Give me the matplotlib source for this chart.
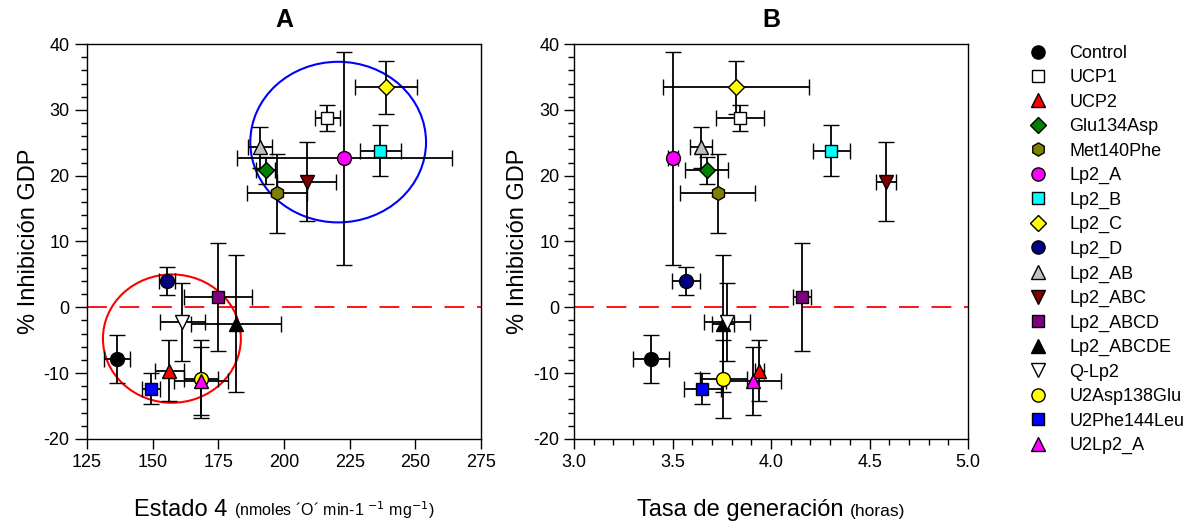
import matplotlib
matplotlib.use("Agg")
import matplotlib.pyplot as plt
from matplotlib.patches import Ellipse
from matplotlib.lines import Line2D
from matplotlib.offsetbox import TextArea, HPacker, AnchoredOffsetbox
from matplotlib.ticker import MultipleLocator, FormatStrFormatter

plt.rcParams['font.family'] = ['Liberation Sans', 'DejaVu Sans']
plt.rcParams['axes.unicode_minus'] = False

names = ["Control", "UCP1", "UCP2", "Glu134Asp", "Met140Phe", "Lp2_A", "Lp2_B",
         "Lp2_C", "Lp2_D", "Lp2_AB", "Lp2_ABC", "Lp2_ABCD", "Lp2_ABCDE", "Q-Lp2",
         "U2Asp138Glu", "U2Phe144Leu", "U2Lp2_A"]
markers = ["o", "s", "^", "D", "h", "o", "s", "D", "o", "^", "v", "s", "^", "v",
           "o", "s", "^"]
colors = ["#000000", "#FFFFFF", "#FF0000", "#008000", "#808000", "#FF00FF", "#00FFFF",
          "#FFFF00", "#000080", "#C0C0C0", "#800000", "#800080", "#000000", "#FFFFFF",
          "#FFFF00", "#0000FF", "#FF00FF"]

# % Inhibicion GDP (shared by both panels)
inhib = [-7.8, 28.75, -9.6, 20.8, 17.35, 22.65, 23.8, 33.4, 4.0, 24.3, 19.1, 1.5,
         -2.5, -2.2, -10.9, -12.35, -11.2]
inhib_err = [3.65, 2.0, 4.7, 2.1, 6.0, 16.2, 3.9, 4.0, 2.2, 3.1, 6.0, 8.2, 10.4,
             5.9, 5.9, 2.3, 5.2]

# Panel A: Estado 4
estado4 = [136.3, 216.5, 156.3, 193.0, 197.3, 222.9, 236.7, 238.8, 155.5, 190.9,
           208.7, 174.75, 181.7, 161.3, 168.4, 149.4, 168.4]
estado4_err = [4.9, 4.8, 5.6, 3.5, 11.3, 41.0, 7.7, 11.7, 3.0, 4.6, 11.2, 13.0,
               17.0, 8.7, 6.6, 3.5, 10.3]

# Panel B: Tasa de generacion (horas)
tasa = [3.391, 3.843, 3.941, 3.673, 3.729, 3.504, 4.305, 3.822, 3.567, 3.643, 4.582,
        4.157, 3.755, 3.775, 3.758, 3.651, 3.910]
tasa_err = [0.09, 0.12, 0.025, 0.11, 0.19, 0.025, 0.094, 0.37, 0.071, 0.057, 0.05,
            0.048, 0.055, 0.116, 0.12, 0.094, 0.14]

# Group ellipses (panel A): center x, center y, width, height
ell_blue = (220.6, 25.1, 66.9, 24.4)
ell_red = (157.3, -4.75, 52.5, 19.5)

fig = plt.figure(figsize=(11.89, 5.31), dpi=100)
axA = fig.add_axes([0.0732, 0.1733, 0.3314, 0.7438])
axB = fig.add_axes([0.4828, 0.1733, 0.3314, 0.7438])

msize = {"o": 10, "s": 9, "^": 10, "v": 10, "D": 8.5, "h": 10}


def draw(ax, xs, xerrs):
    ax.axhline(0, color="#FF0000", lw=1.3, dashes=(11, 7), zorder=1)
    for i in range(len(names)):
        ax.errorbar(xs[i], inhib[i], xerr=xerrs[i], yerr=inhib_err[i],
                    fmt=markers[i], ms=msize[markers[i]], mfc=colors[i], mec="black",
                    mew=1.0, ecolor="black", elinewidth=1.3, capsize=6, capthick=1.3,
                    zorder=3)
    ax.set_ylim(-20, 40)
    ax.yaxis.set_major_locator(MultipleLocator(10))
    ax.yaxis.set_minor_locator(MultipleLocator(2))
    ax.tick_params(axis="both", which="major", direction="out", length=7, width=1,
                   labelsize=13)
    ax.tick_params(axis="both", which="minor", direction="out", length=4, width=1)
    for s in ax.spines.values():
        s.set_linewidth(1.0)
    ax.set_ylabel("% Inhibición GDP", fontsize=17, labelpad=3)


draw(axA, estado4, estado4_err)
axA.set_xlim(125, 275)
axA.xaxis.set_major_locator(MultipleLocator(25))
axA.tick_params(axis="y", which="major", length=9)
for (cx, cy, w, h), col in [(ell_blue, "#0000FF"), (ell_red, "#FF0000")]:
    axA.add_patch(Ellipse((cx, cy), w, h, fill=False, edgecolor=col, lw=1.5, zorder=2))
axA.set_title("A", fontsize=18, fontweight="bold", pad=12)

draw(axB, tasa, tasa_err)
axB.set_xlim(3.0, 5.0)
axB.xaxis.set_major_locator(MultipleLocator(0.5))
axB.xaxis.set_minor_locator(MultipleLocator(0.1))
axB.xaxis.set_major_formatter(FormatStrFormatter("%.1f"))
axB.set_title("B", fontsize=18, fontweight="bold", pad=12)


def xlabel(ax, big, small, small_size):
    box = HPacker(children=[TextArea(big, textprops=dict(fontsize=17)),
                            TextArea(small, textprops=dict(fontsize=small_size))],
                  align="baseline", pad=0, sep=5)
    ab = AnchoredOffsetbox(loc="center", child=box, pad=0, frameon=False,
                           bbox_to_anchor=(0.5, -0.18), bbox_transform=ax.transAxes,
                           borderpad=0)
    ax.add_artist(ab)


xlabel(axA, "Estado 4", "(nmoles ´O´ min-1 $^{-1}$ mg$^{-1}$)", 11.5)
xlabel(axB, "Tasa de generación", "(horas)", 12.5)

handles = [Line2D([], [], ls="none", marker=markers[i], ms=msize[markers[i]] * 0.95,
                  mfc=colors[i], mec="black", mew=1.0) for i in range(len(names))]
fig.legend(handles, names, loc="upper left", bbox_to_anchor=(1027 / 1189, 1 - 45 / 531),
           frameon=False, fontsize=13, handlelength=1.2, handletextpad=1.15,
           labelspacing=0.41, borderpad=0, borderaxespad=0)

fig.savefig("out.png", dpi=100)
